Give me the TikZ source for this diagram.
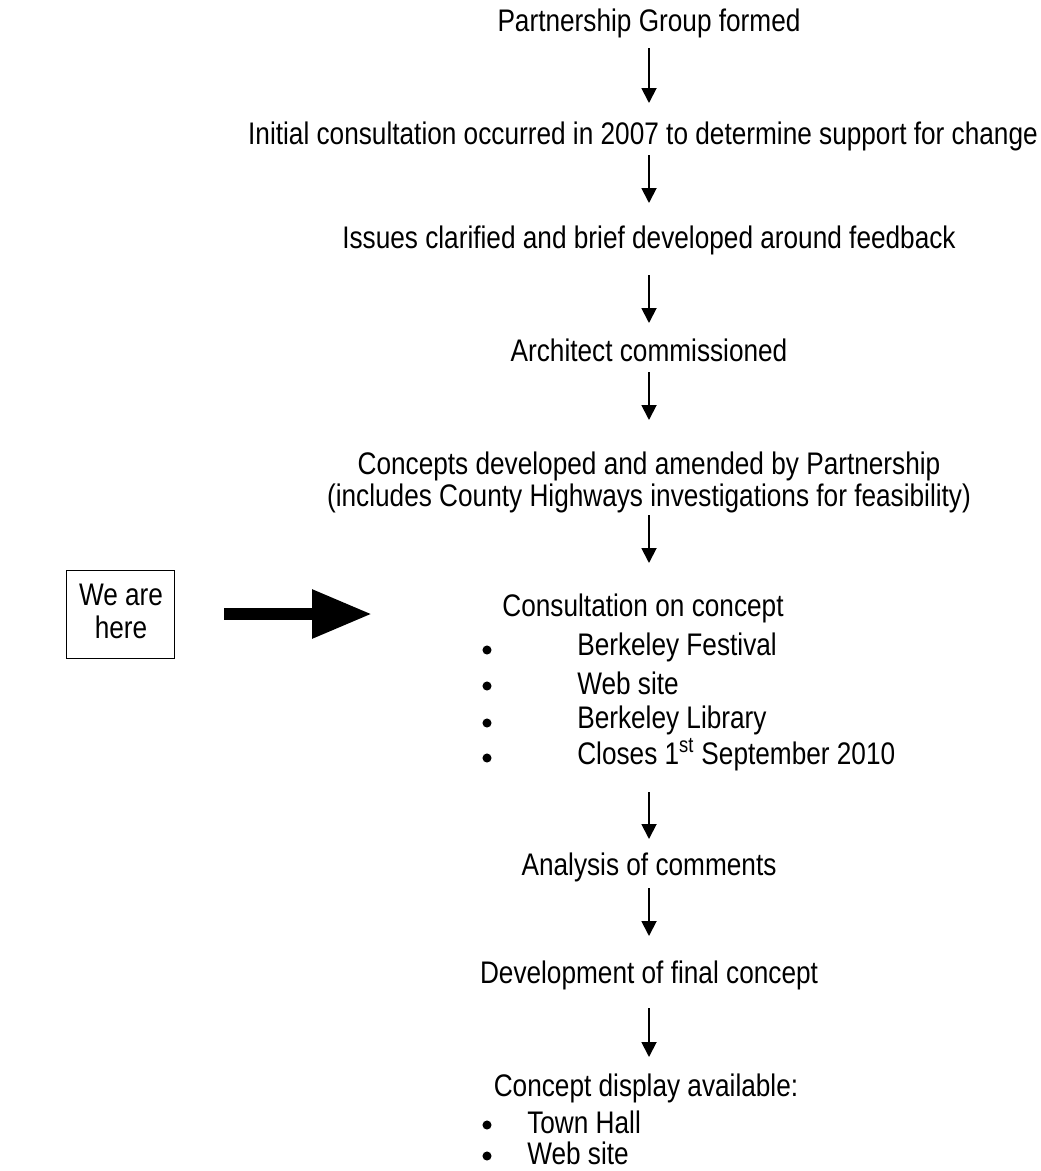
\documentclass[tikz,border=0pt]{standalone}
\usepackage{fontspec}
\setmainfont{Liberation Sans}[FakeStretch=0.84]
\usetikzlibrary{arrows.meta}
\tikzset{
  lbl/.style={inner sep=0pt, font=\fontsize{23.4}{25}\selectfont},
  arr/.style={line width=1.4pt, -{Triangle[width=11.25pt,length=11.25pt]}},
  bigarr/.style={line width=9pt, -{Triangle[width=34.5pt,length=45pt]}},
  bul/.style={circle, fill=black, inner sep=0pt, minimum size=6.8pt},
  herebox/.style={draw, line width=0.9pt, inner sep=0pt, minimum width=81pt, minimum height=66pt, anchor=north east},
}
\begin{document}
\begin{tikzpicture}[x=0.75pt,y=-0.75pt]
\useasboundingbox (0,0) rectangle (1041,1171);

\node[lbl] (t1) at (649,23) {Partnership Group formed};
\node[lbl] (t2) at (643,136) {Initial consultation occurred in 2007 to determine support for change};
\node[lbl] (t3) at (649,240) {Issues clarified and brief developed around feedback};
\node[lbl] (t4) at (649,350) {Architect commissioned};
\node[lbl] (t5a) at (649,466) {Concepts developed and amended by Partnership};
\node[lbl] (t5b) at (649,498) {(includes County Highways investigations for feasibility)};
\node[lbl] (t6) at (643,608) {Consultation on concept};
\node[lbl, anchor=west] (b1) at (577,647) {Berkeley Festival};
\node[lbl, anchor=west] (b2) at (577,683) {Web site};
\node[lbl, anchor=west] (b3) at (577,720) {Berkeley Library};
\node[lbl, anchor=west] (b4) at (577,755) {Closes 1\textsuperscript{st} September 2010};
\node[bul] (d1) at (487,650) {};
\node[bul] (d2) at (487,686) {};
\node[bul] (d3) at (487,723) {};
\node[bul] (d4) at (487,758) {};
\node[lbl] (t7) at (649,867) {Analysis of comments};
\node[lbl] (t8) at (649,975) {Development of final concept};
\node[lbl] (t9) at (646,1088) {Concept display available:};
\node[lbl, anchor=west] (c1) at (527,1122) {Town Hall};
\node[lbl, anchor=west] (c2) at (527,1153) {Web site};
\node[bul] (e1) at (487,1125) {};
\node[bul] (e2) at (487,1156) {};

\node[herebox] (box) at (175,570) {};
\node[lbl] (w1) at (121,595) {We are};
\node[lbl] (w2) at (121,627) {here};

\coordinate (a1s) at (649,48);  \coordinate (a1e) at (649,103);
\coordinate (a2s) at (649,155); \coordinate (a2e) at (649,203);
\coordinate (a3s) at (649,275); \coordinate (a3e) at (649,323);
\coordinate (a4s) at (649,372); \coordinate (a4e) at (649,420);
\coordinate (a5s) at (649,515); \coordinate (a5e) at (649,563);
\coordinate (a6s) at (649,792); \coordinate (a6e) at (649,839);
\coordinate (a7s) at (649,888); \coordinate (a7e) at (649,936);
\coordinate (a8s) at (649,1008); \coordinate (a8e) at (649,1057);
\foreach \i in {1,...,8} { \draw[arr] (a\i s) -- (a\i e); }

\coordinate (bs) at (224,614);
\coordinate (be) at (372,614);
\draw[bigarr] (bs) -- (be);
\end{tikzpicture}
\end{document}
